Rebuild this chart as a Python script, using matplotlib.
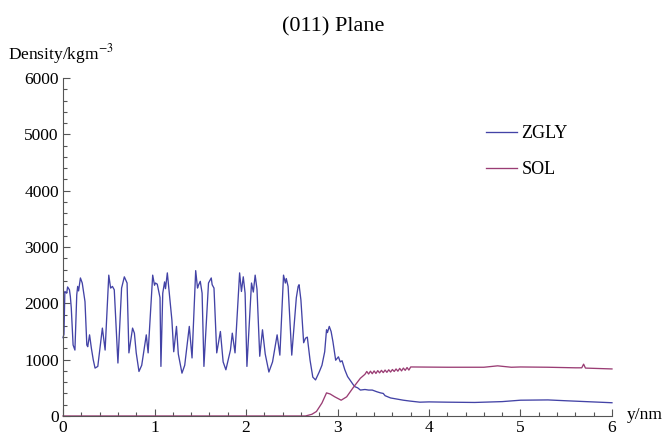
import numpy as np
import matplotlib
matplotlib.use("Agg")
import matplotlib.pyplot as plt
from matplotlib.ticker import MultipleLocator

plt.rcParams['font.family'] = ['Liberation Serif', 'DejaVu Serif']
plt.rcParams['mathtext.fontset'] = 'stix'

# ZGLY density profile (y in nm, density in kg/m^3)
zgly_y = [0.00, 0.01, 0.02, 0.04, 0.05, 0.07, 0.08, 0.09, 0.11, 0.13, 0.15, 0.16,
          0.17, 0.19, 0.21, 0.24, 0.26, 0.27, 0.29, 0.31, 0.33, 0.35, 0.38, 0.43,
          0.46, 0.50, 0.52, 0.54, 0.56, 0.60, 0.64, 0.67, 0.70, 0.72, 0.76, 0.78,
          0.80, 0.83, 0.86, 0.91, 0.93, 0.98, 1.00, 1.01, 1.03, 1.06, 1.07, 1.09,
          1.11, 1.12, 1.14, 1.16, 1.19, 1.21, 1.24, 1.26, 1.30, 1.33, 1.38, 1.41,
          1.45, 1.47, 1.48, 1.50, 1.52, 1.54, 1.59, 1.62, 1.63, 1.65, 1.68, 1.72,
          1.75, 1.78, 1.83, 1.85, 1.88, 1.93, 1.95, 1.97, 1.99, 2.01, 2.06, 2.08,
          2.10, 2.12, 2.15, 2.18, 2.21, 2.25, 2.29, 2.34, 2.37, 2.41, 2.43, 2.44,
          2.46, 2.50, 2.55, 2.57, 2.58, 2.60, 2.63, 2.65, 2.67, 2.70, 2.73, 2.76,
          2.80, 2.83, 2.86, 2.88, 2.89, 2.91, 2.93, 2.95, 2.98, 3.01, 3.03, 3.05,
          3.08, 3.11, 3.14, 3.17, 3.19, 3.22, 3.25, 3.30, 3.34, 3.38, 3.43, 3.47,
          3.50, 3.52, 3.58, 3.65, 3.72, 3.79, 3.90, 4.00, 4.20, 4.50, 4.80, 5.00,
          5.30, 5.50, 5.80, 6.00]
zgly_rho = [1390, 1450, 2210, 2180, 2290, 2240, 2120, 1920, 1260, 1170, 2150, 2300,
            2220, 2450, 2360, 2030, 1260, 1230, 1440, 1200, 1000, 850, 880, 1560,
            1170, 2500, 2270, 2300, 2240, 940, 2270, 2470, 2360, 1120, 1560, 1470,
            1120, 790, 900, 1440, 1120, 2500, 2320, 2360, 2340, 2100, 880, 2180,
            2380, 2260, 2540, 2200, 1700, 1140, 1590, 1100, 760, 900, 1590, 1030,
            2580, 2270, 2320, 2390, 2180, 880, 2360, 2450, 2330, 2270, 1120, 1500,
            960, 820, 1170, 1470, 1120, 2540, 2210, 2470, 2180, 880, 2360, 2200,
            2500, 2250, 1060, 1530, 1100, 780, 960, 1440, 1080, 2500, 2360, 2440,
            2300, 1080, 2100, 2300, 2330, 2060, 1300, 1380, 1400, 990, 690, 640,
            780, 900, 1140, 1530, 1480, 1590, 1500, 1320, 990, 1050, 960, 980,
            820, 700, 630, 560, 520, 500, 460, 470, 460, 460, 430, 410,
            400, 360, 320, 300, 280, 265, 245, 250, 245, 240, 255, 280,
            285, 270, 250, 235]

# SOL density profile
sol_y = [0.00, 2.65, 2.72, 2.77, 2.83, 2.88, 2.92, 2.97, 3.04, 3.10, 3.17, 3.25,
         3.30, 3.32, 3.34, 3.36, 3.38, 3.40, 3.42, 3.44, 3.46, 3.48, 3.50, 3.52,
         3.54, 3.56, 3.58, 3.60, 3.62, 3.64, 3.66, 3.68, 3.70, 3.72, 3.74, 3.76,
         3.78, 3.80, 3.81, 4.20, 4.60, 4.75, 4.90, 5.00, 5.30, 5.60, 5.67, 5.69,
         5.71, 6.00]
sol_rho = [0, 0, 30, 80, 230, 410, 390, 340, 280, 340, 500, 670,
           740, 790, 745, 795, 750, 800, 755, 805, 765, 810, 770, 815,
           775, 820, 780, 825, 790, 835, 795, 845, 800, 850, 810, 860,
           815, 870, 870, 865, 865, 890, 865, 870, 865, 855, 855, 920,
           850, 835]

labels = ["ZGLY", "SOL"]
colors = ["#4343a6", "#9a3d74"]

fig = plt.figure(figsize=(6.67, 4.43), dpi=100)
ax = fig.add_axes([0.0945, 0.061, 0.823, 0.763])

ax.plot(zgly_y, zgly_rho, color=colors[0], lw=0.95, label=labels[0], clip_on=False)
ax.plot(sol_y, sol_rho, color=colors[1], lw=0.95, label=labels[1], clip_on=False)

ax.set_xlim(0, 6)
ax.set_ylim(0, 6000)
for s in ["top", "right"]:
    ax.spines[s].set_visible(False)
for s in ["left", "bottom"]:
    ax.spines[s].set_color("#555555")
    ax.spines[s].set_linewidth(0.8)

ax.xaxis.set_major_locator(MultipleLocator(1))
ax.xaxis.set_minor_locator(MultipleLocator(0.2))
ax.yaxis.set_major_locator(MultipleLocator(1000))
ax.yaxis.set_minor_locator(MultipleLocator(200))
ax.tick_params(which="both", direction="in", color="#555555", labelsize=12.5, width=0.8)
ax.tick_params(which="major", length=5, pad=3)
ax.tick_params(which="minor", length=3)

fig.text(0.5, 0.94, "(011) Plane", ha="center", va="center", fontsize=16)
fig.text(0.012, 0.878, "Density/kgm$^{-3}$", ha="left", va="center", fontsize=12.5)
fig.text(0.94, 0.063, "y/nm", ha="left", va="center", fontsize=12.5)

ax.legend(loc="center left", bbox_to_anchor=(0.729, 0.658), bbox_transform=fig.transFigure,
          frameon=False, fontsize=13, handlelength=1.7, handletextpad=0.25,
          labelspacing=1.05, borderpad=0, borderaxespad=0)

fig.savefig("out.png", dpi=100)
